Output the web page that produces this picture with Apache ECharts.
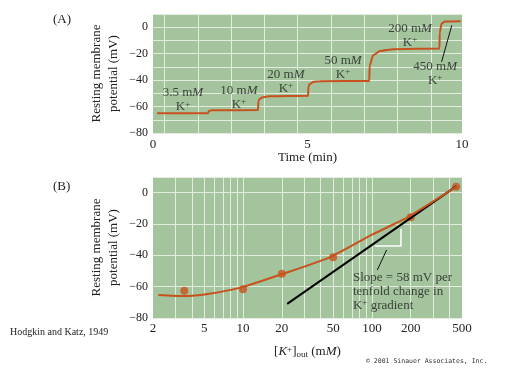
<!DOCTYPE html>
<html><head><meta charset="utf-8">
<script src="https://cdn.jsdelivr.net/npm/echarts@6/dist/echarts.min.js"></script>
<style>html,body{margin:0;padding:0;background:#fff}#c{width:512px;height:370px}</style>
</head><body><div id="c"></div>
<script>
// ---- Panel A data ----
const traceTime = [0.13,1.77,1.82,1.9,3.40,3.41,3.45,3.55,3.75,5.02,5.03,5.07,5.2,5.4,7.0,7.01,7.13,7.35,7.78,9.27,9.28,9.34,9.45,9.96];
const traceMv   = [-65.1,-65.1,-63.2,-62.8,-62.6,-56,-54.3,-53,-52.2,-51.8,-45,-43,-41.3,-40.8,-40.6,-29,-21.1,-17.9,-16.6,-16.1,-4,2.8,4.3,4.5];
const stepConc = ['3.5','10','20','50','200','450'];
const stepLabelTime = [0.97,2.78,4.30,6.15,8.32,9.13];
const stepLabelMv = [-55,-53,-41,-30.5,-6,-35];
const leaderATime = [9.34,9.67];
const leaderAMv = [-26.2,1.5];
const timeTicks = [0,5,10];
const timeGrid = [0.37,1.45,2.52,3.6,4.68,5.76,6.84,7.92,9.0];
const mvTicks = [0,-20,-40,-60,-80];
// ---- Panel B data ----
const kOut = [3.5,10,20,50,200,450];
const kMv = [-62.6,-61.7,-51.7,-41.3,-15.7,3.8];
const fitK = [2.2,3.5,5.3,9.5,19.4,47,102,187,452];
const fitMv = [-65.3,-66,-64.7,-60.6,-52.4,-41.3,-26.5,-16,3.8];
const nernstK = [22,450];
const nernstMv = [-71,4];
const triK = [105,168,168];
const triMv = [-34,-34,-23];
const leaderBK = [110,130];
const leaderBMv = [-49.4,-36.6];
const slopeLabelK = 70.6, slopeLabelMv = -63;
const kTicks = [2,5,10,20,50,100,200,500];
const kGrid = [3,4,5,6,7,8,9,10,20,30,40,50,60,70,80,90,100,200,300,400];

const SERIF = "'Liberation Serif', 'DejaVu Serif', serif";
const TXT = '#222';
const GREEN = '#a3c49c';
const GRIDC = '#e3ecdf';
const ORANGE = '#c8521e';
const zip = (a,b) => a.map((v,i)=>[v,b[i]]);
const minus = v => v < 0 ? '\u2212' + Math.abs(v) : String(v);

const richBase = {
  n: {fontFamily: SERIF, fontSize: 13, color: TXT, lineHeight: 14},
  i: {fontFamily: SERIF, fontSize: 13, color: TXT, fontStyle: 'italic', lineHeight: 14},
  s: {fontFamily: SERIF, fontSize: 9, color: TXT, lineHeight: 9, verticalAlign: 'top'},
  sub: {fontFamily: SERIF, fontSize: 9, color: TXT, lineHeight: 9, verticalAlign: 'bottom'}
};

const chart = echarts.init(document.getElementById('c'), null, {renderer: 'canvas'});
chart.setOption({
  animation: false,
  backgroundColor: '#fff',
  textStyle: {fontFamily: SERIF, color: TXT},
  grid: [
    {left: 153, width: 309, top: 14, height: 119, show: true, backgroundColor: GREEN, borderWidth: 0},
    {left: 153, width: 309, top: 177, height: 141, show: true, backgroundColor: GREEN, borderWidth: 0}
  ],
  xAxis: [
    {gridIndex: 0, type: 'value', min: 0, max: 10,
     axisLine: {show: false}, axisTick: {show: false, customValues: timeGrid},
     splitLine: {show: true, lineStyle: {color: GRIDC, width: 1}},
     axisLabel: {customValues: timeTicks, fontFamily: SERIF, fontSize: 13, color: TXT, margin: 5},
     name: 'Time (min)', nameLocation: 'middle', nameGap: 18, nameMoveOverlap: false,
     nameTextStyle: {fontFamily: SERIF, fontSize: 13, color: TXT}},
    {gridIndex: 1, type: 'log', logBase: 10, min: 2, max: 500,
     axisLine: {show: false}, axisTick: {show: false, customValues: kGrid},
     splitLine: {show: true, lineStyle: {color: GRIDC, width: 1}},
     axisLabel: {customValues: kTicks, fontFamily: SERIF, fontSize: 13, color: TXT, margin: 4,
                 formatter: v => String(Math.round(v))},
     name: '{n|[}{i|K}{s|+}{n|]}{sub|out}{n| (m}{i|M}{n|)}', nameLocation: 'middle', nameGap: 27, nameMoveOverlap: false,
     nameTextStyle: {rich: richBase}}
  ],
  yAxis: [
    {gridIndex: 0, type: 'value', min: -80, max: 10, interval: 10,
     axisLine: {show: false}, axisTick: {show: false},
     splitLine: {show: true, lineStyle: {color: GRIDC, width: 1}},
     axisLabel: {customValues: mvTicks, formatter: minus, fontFamily: SERIF, fontSize: 12, color: TXT, margin: 5},
     name: 'Resting membrane\npotential (mV)', nameLocation: 'middle', nameGap: 31, nameRotate: 90, nameMoveOverlap: false,
     nameTextStyle: {fontFamily: SERIF, fontSize: 13, color: TXT, lineHeight: 17}},
    {gridIndex: 1, type: 'value', min: -80, max: 10, interval: 20,
     axisLine: {show: false}, axisTick: {show: false},
     splitLine: {show: true, lineStyle: {color: GRIDC, width: 1}},
     axisLabel: {customValues: mvTicks, formatter: minus, fontFamily: SERIF, fontSize: 12, color: TXT, margin: 5},
     name: 'Resting membrane\npotential (mV)', nameLocation: 'middle', nameGap: 31, nameRotate: 90, nameMoveOverlap: false,
     nameTextStyle: {fontFamily: SERIF, fontSize: 13, color: TXT, lineHeight: 17}}
  ],
  series: [
    {type: 'line', xAxisIndex: 0, yAxisIndex: 0, data: zip(traceTime, traceMv), showSymbol: false,
     smooth: 0.25, smoothMonotone: 'x', lineStyle: {color: ORANGE, width: 2}, silent: true},
    {type: 'line', xAxisIndex: 0, yAxisIndex: 0, data: zip(leaderATime, leaderAMv), showSymbol: false,
     lineStyle: {color: '#111', width: 1}, silent: true},
    {type: 'scatter', xAxisIndex: 0, yAxisIndex: 0, data: zip(stepLabelTime, stepLabelMv),
     symbolSize: 1, itemStyle: {color: 'rgba(0,0,0,0)'}, silent: true,
     label: {show: true, position: 'inside', align: 'center', verticalAlign: 'middle',
             formatter: p => `{n|${stepConc[p.dataIndex]} m}{i|M}\n{n|K}{s|+}`, rich: richBase}},
    // Panel B
    {type: 'line', xAxisIndex: 1, yAxisIndex: 1, data: zip(triK, triMv), showSymbol: false,
     lineStyle: {color: '#ffffff', width: 1.5}, silent: true},
    {type: 'line', xAxisIndex: 1, yAxisIndex: 1, data: zip(nernstK, nernstMv), showSymbol: false,
     lineStyle: {color: '#000', width: 2}, silent: true},
    {type: 'line', xAxisIndex: 1, yAxisIndex: 1, data: zip(fitK, fitMv), showSymbol: false,
     smooth: 0.2, lineStyle: {color: ORANGE, width: 2}, silent: true},
    {type: 'scatter', xAxisIndex: 1, yAxisIndex: 1, data: zip(kOut, kMv), symbolSize: 8,
     itemStyle: {color: ORANGE}, silent: true},
    {type: 'line', xAxisIndex: 1, yAxisIndex: 1, data: zip(leaderBK, leaderBMv), showSymbol: false,
     lineStyle: {color: '#111', width: 1}, silent: true},
    {type: 'scatter', xAxisIndex: 1, yAxisIndex: 1, data: [[slopeLabelK, slopeLabelMv]],
     symbolSize: 1, itemStyle: {color: 'rgba(0,0,0,0)'}, silent: true,
     label: {show: true, position: 'right', distance: 0, align: 'left', verticalAlign: 'middle',
             formatter: '{n|Slope = 58 mV per}\n{n|tenfold change in}\n{n|K}{s|+}{n| gradient}', rich: richBase}}
  ],
  graphic: [
    {type: 'text', left: 53, top: 13, style: {text: '(A)', font: `13px ${SERIF}`, fill: TXT}},
    {type: 'text', left: 53, top: 180, style: {text: '(B)', font: `13px ${SERIF}`, fill: TXT}},
    {type: 'text', left: 10, top: 327, style: {text: 'Hodgkin and Katz, 1949', font: `10px ${SERIF}`, fill: TXT}},
    {type: 'text', left: 366, top: 358, style: {text: '\u00a9 2001 Sinauer Associates, Inc.', font: "6.5px 'DejaVu Sans Mono', monospace", fill: '#333'}}
  ]
});
</script></body></html>
